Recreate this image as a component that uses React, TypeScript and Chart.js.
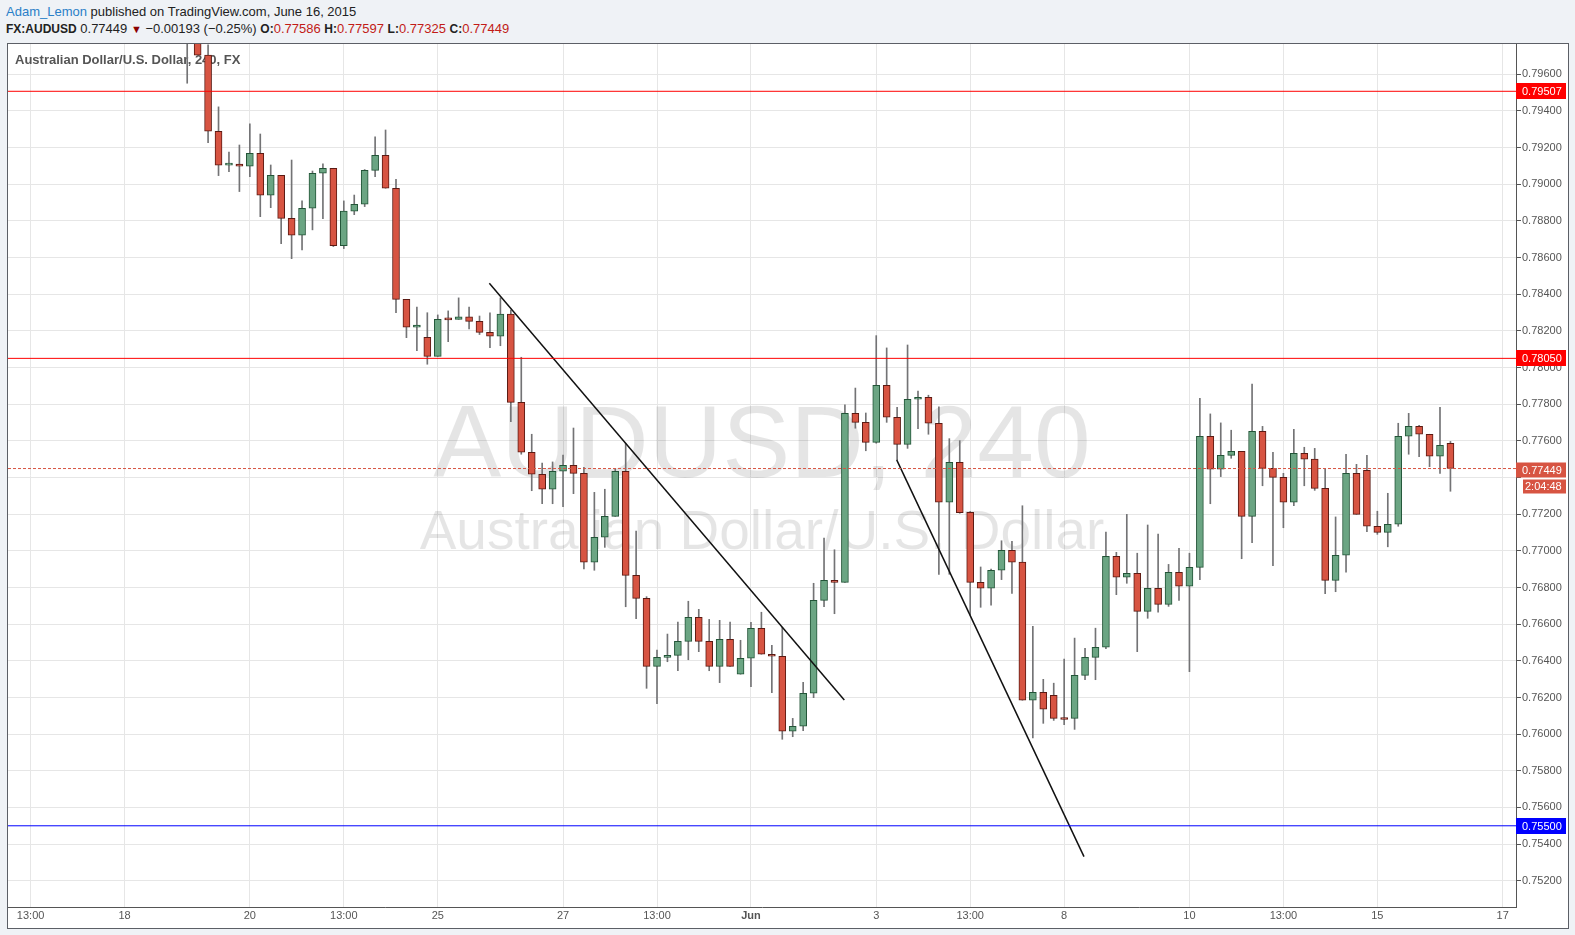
import React, { useEffect, useRef } from "react";
import { Chart, registerables } from "chart.js";

Chart.register(...registerables);

const FONT = "'Liberation Sans', Arial, sans-serif";

// ---- Data (4-hour FX:AUDUSD candles, bar index = position on time axis) ----
const firstBar = 15;

const opens = [
  0.7993, 0.7988, 0.79704, 0.79289, 0.79104, 0.7911, 0.79098, 0.79169, 0.7894, 0.79049,
  0.78814, 0.78722, 0.78869, 0.7906, 0.79087, 0.78665, 0.78853, 0.78891, 0.79076, 0.79158,
  0.78978, 0.78372, 0.7822, 0.78165, 0.78061, 0.78265, 0.78263, 0.78276, 0.78252, 0.78192,
  0.78171, 0.78291, 0.7781, 0.77538, 0.77418, 0.77336, 0.77434, 0.77467, 0.77423, 0.76938,
  0.77074, 0.77188, 0.77434, 0.76866, 0.76741, 0.7637, 0.76419, 0.7643, 0.76506, 0.76637,
  0.76506, 0.7637, 0.76517, 0.76327, 0.76414, 0.76577, 0.76436, 0.76425, 0.76016, 0.76043,
  0.76223, 0.7673, 0.76839, 0.76828, 0.7775, 0.77701, 0.77592, 0.77903, 0.77729, 0.77581,
  0.77827, 0.77838, 0.77696, 0.77265, 0.77483, 0.7721, 0.76828, 0.76796, 0.76894, 0.77003,
  0.76938, 0.76185, 0.76228, 0.76212, 0.76086, 0.76086, 0.76321, 0.76419, 0.76474, 0.7697,
  0.76856, 0.76877, 0.7667, 0.76796, 0.76708, 0.76883, 0.76807, 0.7691, 0.77625, 0.77445,
  0.77521, 0.77543, 0.77188, 0.77652, 0.7745, 0.77401, 0.77265, 0.77532, 0.775, 0.77341,
  0.76839, 0.76976, 0.77423, 0.77439, 0.77134, 0.77101, 0.77145, 0.77625, 0.77679, 0.77636,
  0.77516, 0.77586,
];

const highs = [
  0.8004, 0.7992, 0.7976, 0.79422, 0.79176, 0.79214, 0.79329, 0.79274, 0.79105, 0.79049,
  0.79132, 0.78909, 0.79072, 0.79111, 0.79087, 0.78909, 0.78941, 0.7908, 0.79258, 0.79296,
  0.79027, 0.78372, 0.7833, 0.78299, 0.78287, 0.78309, 0.7838, 0.7833, 0.78281, 0.78298,
  0.7838, 0.78314, 0.78056, 0.77636, 0.77479, 0.77485, 0.77523, 0.7767, 0.77456, 0.77319,
  0.77336, 0.77445, 0.77587, 0.77108, 0.7675, 0.76459, 0.76546, 0.76611, 0.76725, 0.76681,
  0.76626, 0.76621, 0.76611, 0.76512, 0.7661, 0.76665, 0.76485, 0.76583, 0.76086, 0.76283,
  0.76823, 0.7707, 0.77006, 0.77796, 0.77888, 0.77752, 0.78174, 0.78107, 0.77783, 0.78123,
  0.77872, 0.77849, 0.77785, 0.77612, 0.77601, 0.77215, 0.76912, 0.769, 0.77055, 0.77052,
  0.77246, 0.76588, 0.76299, 0.76278, 0.76409, 0.76524, 0.76468, 0.76578, 0.77103, 0.76992,
  0.77199, 0.76987, 0.77141, 0.77092, 0.76926, 0.77014, 0.76987, 0.77832, 0.77747, 0.77698,
  0.77658, 0.77543, 0.7791, 0.77679, 0.77538, 0.77423, 0.77663, 0.77565, 0.77559, 0.77445,
  0.77185, 0.77527, 0.77472, 0.77521, 0.77216, 0.77314, 0.77696, 0.7775, 0.77685, 0.77636,
  0.77783, 0.77597,
];

const lows = [
  0.79551, 0.79704, 0.79227, 0.79047, 0.79069, 0.7896, 0.79041, 0.78823, 0.78872, 0.78676,
  0.78594, 0.78641, 0.78751, 0.78812, 0.7866, 0.78649, 0.78834, 0.78878, 0.79041, 0.78978,
  0.78299, 0.78163, 0.78092, 0.78018, 0.78061, 0.78141, 0.78263, 0.7821, 0.7818, 0.78108,
  0.78119, 0.77705, 0.77527, 0.77328, 0.77257, 0.77257, 0.77241, 0.77312, 0.76902, 0.76894,
  0.77019, 0.77188, 0.76695, 0.7663, 0.7625, 0.76166, 0.76395, 0.76346, 0.76406, 0.7645,
  0.76346, 0.76281, 0.7637, 0.76327, 0.76259, 0.76436, 0.76226, 0.75972, 0.75986, 0.76019,
  0.76199, 0.76695, 0.76657, 0.76828, 0.77669, 0.77546, 0.77587, 0.77701, 0.77497, 0.77559,
  0.77666, 0.77636, 0.76872, 0.76872, 0.77205, 0.7665, 0.76692, 0.76703, 0.76843, 0.76768,
  0.76185, 0.7598, 0.76059, 0.76075, 0.76051, 0.76026, 0.76297, 0.76297, 0.76466, 0.76761,
  0.76823, 0.7645, 0.76632, 0.76665, 0.76697, 0.7673, 0.76341, 0.76843, 0.77257, 0.77405,
  0.77505, 0.76957, 0.77044, 0.77355, 0.76919, 0.77126, 0.77246, 0.77355, 0.7733, 0.76766,
  0.76777, 0.76883, 0.77199, 0.77104, 0.7709, 0.77022, 0.77134, 0.77527, 0.77514, 0.77459,
  0.77423, 0.77325,
];

const closes = [
  0.7985, 0.79704, 0.79289, 0.79104, 0.7911, 0.79098, 0.79169, 0.7894, 0.79049, 0.78814,
  0.78722, 0.78869, 0.7906, 0.79087, 0.78665, 0.78853, 0.78891, 0.79076, 0.79158, 0.78978,
  0.78372, 0.7822, 0.78231, 0.78061, 0.78263, 0.7826, 0.78276, 0.78252, 0.78192, 0.78171,
  0.78291, 0.7781, 0.77538, 0.77418, 0.77336, 0.77434, 0.77467, 0.77423, 0.76938, 0.77074,
  0.77188, 0.77434, 0.76866, 0.76741, 0.7637, 0.76419, 0.7643, 0.76506, 0.76637, 0.76506,
  0.7637, 0.76517, 0.7637, 0.76414, 0.76577, 0.76436, 0.76425, 0.76016, 0.76043, 0.76223,
  0.7673, 0.76839, 0.76828, 0.7775, 0.77701, 0.77592, 0.77903, 0.77729, 0.77581, 0.77827,
  0.77838, 0.77696, 0.77265, 0.77483, 0.77208, 0.76828, 0.76796, 0.76894, 0.77003, 0.76938,
  0.76185, 0.76228, 0.76136, 0.76086, 0.7608, 0.76321, 0.76419, 0.76474, 0.7697, 0.76856,
  0.76877, 0.7667, 0.76796, 0.76708, 0.76883, 0.76807, 0.7691, 0.77625, 0.77445, 0.77521,
  0.77543, 0.77188, 0.77652, 0.7745, 0.77401, 0.77265, 0.77532, 0.775, 0.77341, 0.76839,
  0.76976, 0.77423, 0.77199, 0.77134, 0.77101, 0.77145, 0.77625, 0.77679, 0.77636, 0.77516,
  0.77576, 0.77449,
];

// ---- Axes ----
const xTickBars = [0, 9, 21, 30, 39, 51, 60, 69, 81, 90, 99, 111, 120, 129, 141];
const xTickLabels = ["13:00", "18", "20", "13:00", "25", "27", "13:00", "Jun", "3", "13:00", "8", "10", "13:00", "15", "17"];
const xRange = [-2.165, 142.28];
const yTicks = [
  0.752, 0.754, 0.756, 0.758, 0.76, 0.762, 0.764, 0.766, 0.768, 0.77, 0.772, 0.774,
  0.776, 0.778, 0.78, 0.782, 0.784, 0.786, 0.788, 0.79, 0.792, 0.794, 0.796,
];
const yRange = [0.75057, 0.79765];

// ---- Drawings ----
const levelValues = [0.79507, 0.7805, 0.755];
const levelColors = ["#ff0000", "#ff0000", "#0000ff"];
const lastPrice = 0.77449;
const countdown = "2:04:48";
const trendLineA = [
  { bar: 43.94, price: 0.7846 },
  { bar: 77.94, price: 0.76186 },
];
const trendLineB = [
  { bar: 82.96, price: 0.77496 },
  { bar: 100.9, price: 0.75332 },
];

const watermarkTitle = "AUDUSD, 240";
const watermarkSubtitle = "Australian Dollar/U.S. Dollar";
const legendTitle = "Australian Dollar/U.S. Dollar, 240, FX";

const UP = "#6ba583";
const DOWN = "#d75442";
const UP_BORDER = "#225437";
const DOWN_BORDER = "#5b1a13";
const WICK = "#737375";
const AXIS = "#555";
const GRID = "#e6e6e6";

const bars = opens.map((_, i) => firstBar + i);

const backdropPlugin = {
  id: "backdrop",
  beforeDatasetsDraw(chart: any) {
    const { ctx, chartArea: a } = chart;
    ctx.save();
    ctx.beginPath();
    ctx.rect(a.left, a.top, a.right - a.left, a.bottom - a.top);
    ctx.clip();
    const cx = (a.left + a.right) / 2;
    ctx.fillStyle = "rgba(0,0,0,0.1)";
    ctx.textAlign = "center";
    ctx.textBaseline = "alphabetic";
    ctx.font = `102px ${FONT}`;
    ctx.fillText(watermarkTitle, cx, a.top + 433);
    ctx.font = `55px ${FONT}`;
    ctx.fillText(watermarkSubtitle, cx, a.top + 504.5);
    ctx.textAlign = "left";
    ctx.textBaseline = "middle";
    ctx.fillStyle = "#555";
    ctx.font = `bold 13px ${FONT}`;
    ctx.fillText(legendTitle, a.left + 7, a.top + 16);
    ctx.restore();
  },
};

const priceTagPlugin = {
  id: "priceTags",
  afterDraw(chart: any) {
    const { ctx, chartArea: a } = chart;
    const y = chart.scales.y;
    const right = chart.width - 2;
    ctx.save();
    ctx.font = `11px ${FONT}`;
    ctx.textBaseline = "middle";
    ctx.textAlign = "left";
    levelValues.forEach((v, i) => {
      const py = Math.round(y.getPixelForValue(v));
      ctx.fillStyle = levelColors[i];
      ctx.fillRect(a.right, py - 8, right - a.right, 16);
      ctx.fillStyle = "#fff";
      ctx.fillText(v.toFixed(5), a.right + 6, py + 0.5);
    });
    const lp = Math.round(y.getPixelForValue(lastPrice)) + 1;
    ctx.fillStyle = DOWN;
    ctx.fillRect(a.right, lp - 7.5, right - a.right, 15);
    ctx.fillRect(a.right + 7, lp + 9.5, right - a.right - 7, 14);
    ctx.fillStyle = "#fff";
    ctx.fillText(lastPrice.toFixed(5), a.right + 6, lp + 0.5);
    ctx.fillText(countdown, a.right + 9, lp + 17);
    ctx.restore();
  },
};

function lineDataset(points: { x: number; y: number }[], color: string, width: number, dash: number[] = []) {
  return {
    type: "line" as const,
    data: points,
    borderColor: color,
    borderWidth: width,
    borderDash: dash,
    pointRadius: 0,
    pointHoverRadius: 0,
    fill: false,
    tension: 0,
    order: 0,
  };
}

export default function App() {
  const ref = useRef<HTMLCanvasElement>(null);

  useEffect(() => {
    const canvas = ref.current;
    if (!canvas) return;
    const up = (i: number) => closes[i] >= opens[i];

    const datasets: any[] = [
      {
        type: "bar",
        data: bars.map((b, i) => ({ x: b, y: [lows[i], highs[i]] })),
        backgroundColor: WICK,
        borderWidth: 0,
        barThickness: 1,
        grouped: false,
        order: 3,
      },
      {
        type: "bar",
        data: bars.map((b, i) => ({ x: b, y: [opens[i], closes[i]] })),
        backgroundColor: bars.map((_, i) => (up(i) ? UP : DOWN)),
        borderColor: bars.map((_, i) => (up(i) ? UP_BORDER : DOWN_BORDER)),
        borderWidth: 1,
        borderSkipped: false,
        barThickness: 7,
        minBarLength: 2,
        grouped: false,
        order: 2,
      },
      lineDataset(
        [{ x: xRange[0], y: lastPrice }, { x: xRange[1], y: lastPrice }],
        DOWN,
        1,
        [3, 2]
      ),
      ...levelValues.map((v, i) =>
        lineDataset([{ x: xRange[0], y: v }, { x: xRange[1], y: v }], levelColors[i], 1)
      ),
      lineDataset(trendLineA.map((p) => ({ x: p.bar, y: p.price })), "#111", 1.5),
      lineDataset(trendLineB.map((p) => ({ x: p.bar, y: p.price })), "#111", 1.5),
    ];

    const chart = new Chart(canvas, {
      type: "bar",
      data: { datasets },
      options: {
        animation: false,
        responsive: false,
        maintainAspectRatio: false,
        devicePixelRatio: 1,
        events: [],
        layout: { padding: 0 },
        plugins: {
          legend: { display: false },
          tooltip: { enabled: false },
          title: { display: false },
        },
        scales: {
          x: {
            type: "linear",
            min: xRange[0],
            max: xRange[1],
            offset: false,
            grid: { color: GRID, drawTicks: false, offset: false, lineWidth: 1 },
            border: { display: true, color: AXIS, width: 1 },
            ticks: {
              autoSkip: false,
              maxRotation: 0,
              minRotation: 0,
              padding: 2,
              color: AXIS,
              font: (c: any) => ({
                family: FONT,
                size: 11,
                weight: xTickLabels[c.index] === "Jun" ? "bold" : "normal",
              }),
              callback: (_v: any, i: number) => xTickLabels[i],
            },
            afterBuildTicks: (scale: any) => {
              scale.ticks = xTickBars.map((v) => ({ value: v }));
            },
            afterFit: (scale: any) => {
              scale.height = 21;
              scale.paddingLeft = 0;
              scale.paddingRight = 0;
            },
          },
          y: {
            type: "linear",
            position: "right",
            min: yRange[0],
            max: yRange[1],
            beginAtZero: false,
            grid: { color: GRID, drawTicks: true, tickLength: 5, tickColor: AXIS, lineWidth: 1 },
            border: { display: true, color: AXIS, width: 1 },
            ticks: {
              autoSkip: false,
              padding: 1,
              color: AXIS,
              font: { family: FONT, size: 11 },
              callback: (v: any) =>
                Math.abs(Number(v) - lastPrice) < 0.0007 ? "" : Number(v).toFixed(5),
            },
            afterBuildTicks: (scale: any) => {
              scale.ticks = yTicks.map((v) => ({ value: v }));
            },
            afterFit: (scale: any) => {
              scale.width = 52;
              scale.paddingTop = 0;
              scale.paddingBottom = 0;
            },
          },
        },
      } as any,
      plugins: [backdropPlugin, priceTagPlugin],
    } as any);

    return () => chart.destroy();
  }, []);

  const red = { color: "#c21b17" };
  const bold = { fontWeight: "bold" as const, fontSize: 12 };
  return (
    <div
      style={{
        position: "absolute",
        left: 0,
        top: 0,
        width: 1575,
        height: 935,
        background: "#eff2f6",
        fontFamily: FONT,
        overflow: "hidden",
      }}
    >
      <div
        style={{
          position: "absolute",
          left: 6,
          top: 3,
          fontSize: 13,
          lineHeight: "18px",
          color: "#222",
          whiteSpace: "nowrap",
        }}
      >
        <span style={{ color: "#2a7fc8" }}>Adam_Lemon</span> published on TradingView.com, June 16, 2015
      </div>
      <div
        style={{
          position: "absolute",
          left: 6,
          top: 20,
          fontSize: 13,
          lineHeight: "18px",
          color: "#222",
          whiteSpace: "nowrap",
        }}
      >
        <span style={bold}>FX:AUDUSD</span> 0.77449 <span style={{ color: "#8b0000", fontSize: 11 }}>▼</span> −0.00193 (−0.25%){" "}
        <span style={bold}>O:</span>
        <span style={red}>0.77586</span> <span style={bold}>H:</span>
        <span style={red}>0.77597</span> <span style={bold}>L:</span>
        <span style={red}>0.77325</span> <span style={bold}>C:</span>
        <span style={red}>0.77449</span>
      </div>
      <div
        style={{
          position: "absolute",
          left: 7,
          top: 43,
          width: 1560,
          height: 884,
          border: "1px solid #5c5f66",
          background: "#ffffff",
        }}
      >
        <canvas ref={ref} width={1560} height={884} style={{ display: "block", width: 1560, height: 884 }} />
      </div>
    </div>
  );
}
